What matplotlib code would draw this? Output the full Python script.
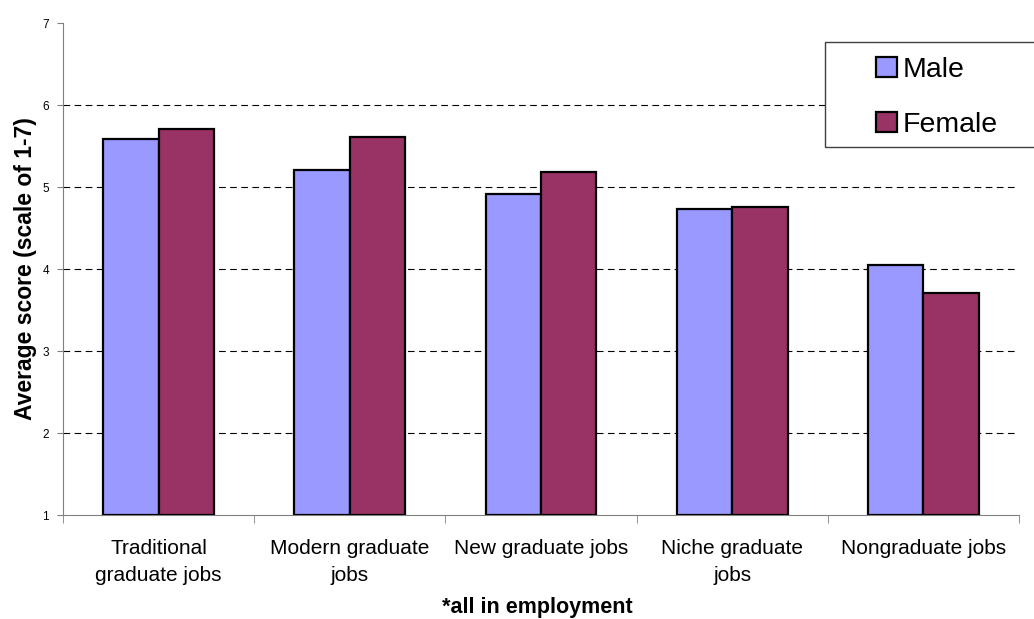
import numpy as np
import matplotlib
matplotlib.use("Agg")
import matplotlib.pyplot as plt
from matplotlib.patches import Rectangle

plt.rcParams['font.family'] = ['Liberation Sans', 'DejaVu Sans']

categories = ['Traditional\ngraduate jobs', 'Modern graduate\njobs', 'New graduate jobs',
              'Niche graduate\njobs', 'Nongraduate jobs']
male = [5.59, 5.21, 4.91, 4.73, 4.05]
female = [5.71, 5.61, 5.18, 4.76, 3.71]
yticks = [1, 2, 3, 4, 5, 6, 7]

W, H = 1034, 619
fig = plt.figure(figsize=(W / 100, H / 100), dpi=100)
ax = fig.add_axes([63 / W, 1 - 515 / H, 956 / W, 492 / H])

x = np.arange(len(categories))
w = 0.29
base = 1
ax.bar(x - w / 2, np.array(male) - base, w, bottom=base, color='#9999FF',
       edgecolor='black', linewidth=1.6, label='Male', zorder=3)
ax.bar(x + w / 2, np.array(female) - base, w, bottom=base, color='#993366',
       edgecolor='black', linewidth=1.6, label='Female', zorder=3)

# dashed gridlines, none on the top edge
for y in yticks[1:-1]:
    ax.axhline(y, color='black', lw=0.8, linestyle=(0, (6, 4)), zorder=1)

ax.set_xlim(-0.5, len(categories) - 0.5)
ax.set_ylim(1, 7)
ax.set_yticks(yticks)
ax.tick_params(axis='y', labelsize=8.5, length=4, color='#808080', pad=6)

ax.set_xticks(x)
ax.set_xticklabels(categories, fontsize=15, linespacing=1.55)
ax.set_xticks(np.arange(-0.5, len(categories), 1), minor=True)
ax.tick_params(axis='x', which='major', length=0, pad=17)
ax.tick_params(axis='x', which='minor', length=6, color='#808080')

for s in ['top', 'right']:
    ax.spines[s].set_visible(False)
for s in ['left', 'bottom']:
    ax.spines[s].set_color('#808080')

ax.set_ylabel('Average score (scale of 1-7)', fontsize=16.5, fontweight='bold', labelpad=4)
fig.text(537 / W, 1 - 607 / H, '*all in employment', fontsize=15.5, fontweight='bold',
         ha='center', va='center')

# legend box
fig.patches.append(Rectangle((825 / W, 1 - 147 / H), 210 / W, 105 / H,
                             transform=fig.transFigure, facecolor='white',
                             edgecolor='#404040', linewidth=1, zorder=4))
leg = fig.legend(loc='upper left', bbox_to_anchor=(876 / W, 1 - 57 / H), frameon=False,
                 fontsize=20.5, borderpad=0, borderaxespad=0, handlelength=0.72,
                 handleheight=0.72, handletextpad=0.2, labelspacing=1.0)
leg.set_zorder(5)

fig.savefig('out.png', dpi=100)
